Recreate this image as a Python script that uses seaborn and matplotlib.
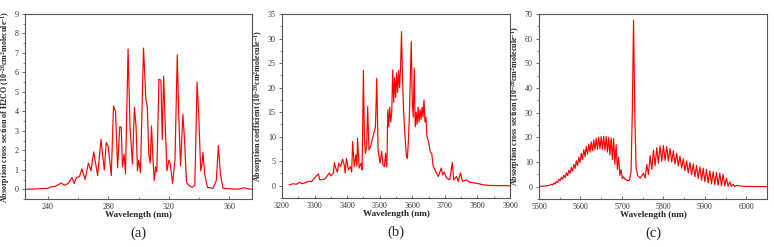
import pandas as pd
import matplotlib
matplotlib.use("Agg")
import matplotlib.pyplot as plt
import seaborn as sns
from matplotlib.ticker import MultipleLocator

# ── (a) H2CO UV absorption cross section ─────────────────────
wl_a = [225, 232, 240, 242, 245, 249, 251, 253.5, 256, 257.5, 258.9, 261, 262.6, 264.7,
        266.9, 268.6, 270.4, 273, 275.2, 277.4, 278.7, 280, 282, 283.5, 284.8, 286.2,
        287.6, 288.6, 289.4, 290.5, 291.4, 293.1, 294.4, 296, 297.3, 298.4, 299.3, 300.2,
        301.3, 303.3, 304.9, 305.8, 306.8, 307.7, 308.6, 309.5, 310.4, 311.3, 312.1,
        313.5, 314.8, 315.7, 316.6, 317.7, 318.8, 320.1, 321, 322.5, 324.1, 325.6, 326.7,
        327.8, 329.3, 330.4, 331.7, 333.3, 335.4, 337.2, 338.7, 339.8, 341.1, 342, 342.6,
        343.7, 345.5, 349.2, 351.4, 352.8, 354.1, 355.8, 365.7, 370, 372, 375]
xs_a = [0.0, 0.02, 0.05, 0.12, 0.15, 0.32, 0.2, 0.3, 0.6, 0.3, 0.6, 0.65, 1.05, 0.5,
        1.35, 0.95, 1.92, 0.7, 2.56, 1.0, 2.4, 2.2, 0.7, 4.28, 4.0, 1.1,
        3.2, 3.2, 1.15, 1.8, 0.8, 7.2, 3.2, 1.3, 4.2, 3.2, 0.95, 1.5,
        0.85, 7.25, 4.6, 4.25, 1.8, 1.35, 3.25, 1.6, 0.45, 1.15, 0.9,
        5.65, 5.6, 2.55, 5.8, 3.2, 0.95, 1.5, 1.3, 0.3, 1.5, 6.9, 3.55,
        1.2, 3.85, 2.55, 0.35, 0.2, 0.1, 0.2, 5.5, 3.8, 0.95, 1.3, 1.9,
        0.8, 0.1, 0.05, 0.45, 2.25, 0.8, 0.05, 0.0, 0.08, 0.03, 0.0]

# ── (b) absorption coefficient, 3.2-3.9 um ───────────────────
wl_b = [3222, 3235, 3245, 3253, 3262, 3283, 3290, 3304, 3312, 3316, 3330, 3335, 3345,
        3350, 3358, 3361, 3365, 3370, 3374, 3380, 3386, 3391, 3394, 3398, 3404, 3410,
        3414, 3417, 3422, 3427, 3430, 3432, 3437, 3443, 3446, 3450, 3453, 3456, 3460,
        3463, 3467, 3472, 3477, 3482, 3487, 3491, 3495, 3501, 3506, 3510, 3515, 3518,
        3522, 3525, 3528, 3531, 3534, 3537, 3540, 3543, 3546, 3549, 3552, 3555, 3558,
        3561, 3564, 3567, 3570, 3573, 3576, 3579, 3582, 3585, 3588, 3591, 3594, 3597,
        3600, 3603, 3606, 3609, 3612, 3615, 3618, 3621, 3624, 3627, 3630, 3633, 3636,
        3639, 3642, 3645, 3650, 3655, 3660, 3664, 3669, 3675, 3680, 3689, 3693, 3698,
        3705, 3715, 3723, 3727, 3736, 3741, 3748, 3754, 3767, 3777, 3797, 3818, 3838, 3900]
ac_b = [0.2, 0.4, 0.3, 0.7, 0.4, 0.9, 0.8, 1.9, 2.4, 1.2, 1.3, 1.6, 2.6,
        2.0, 2.6, 4.75, 3.6, 2.8, 4.6, 3.9, 5.4, 4.3, 2.6, 5.6, 3.2, 3.9,
        2.8, 9.0, 3.9, 6.3, 4.0, 9.7, 3.6, 4.6, 3.2, 23.5, 10, 6.6, 8,
        16.1, 7.3, 8, 9.4, 10.7, 12, 21.9, 7.3, 4.6, 7.0, 4.2, 3.9, 6.6,
        3.8, 15.5, 12, 16, 13, 15, 23.6, 17, 22, 18, 23, 19, 23.5,
        20, 24, 31.4, 22, 16, 12, 9, 6, 5.6, 9, 14, 22, 29.4,
        17, 14, 24, 12, 15, 12.5, 16, 13, 15.5, 13.5, 16, 14, 17.5,
        13, 14, 10, 9, 7, 6.5, 4, 3.3, 2.5, 1.9, 3.6, 2.2, 2.8,
        1.6, 1.2, 4.75, 1.2, 1.9, 0.9, 2.6, 0.9, 1.2, 0.7, 0.5, 0.2, 0.05, 0.0]

# ── (c) absorption cross section, 5.5-6.05 um ────────────────
# band wings + central Q branch
wl_c_edge = [5500, 5510, 5520, 5526, 5708, 5714, 5718, 5722, 5725, 5728, 5731, 5734,
             5738, 5744, 5985, 6000, 6050]
xs_c_edge = [0.1, 0.2, 0.4, 0.6, 3.0, 2.5, 2.6, 6, 30, 67.5, 30, 8,
             4.5, 3.5, 0.3, 0.1, 0.0]
# left hump: line maxima / minima
wl_c_left_max = [5530, 5536, 5542, 5548, 5554, 5560, 5566, 5572, 5578, 5584, 5590, 5596,
                 5602, 5608, 5614, 5620, 5626, 5632, 5638, 5644, 5650, 5656, 5662, 5668,
                 5674, 5680, 5686, 5692, 5698, 5704]
xs_c_left_max = [1.0, 1.5, 2.2, 3.0, 3.8, 4.6, 5.6, 6.6, 7.8, 9.0, 10.5, 12.0,
                 13.5, 15.0, 16.3, 17.3, 18.2, 19.0, 19.6, 20.0, 20.3, 20.4, 20.3, 20.0,
                 19.8, 19.5, 17.0, 12.0, 7.0, 4.0]
wl_c_left_min = [5533, 5539, 5545, 5551, 5557, 5563, 5569, 5575, 5581, 5587, 5593, 5599,
                 5605, 5611, 5617, 5623, 5629, 5635, 5641, 5647, 5653, 5659, 5665, 5671,
                 5677, 5683, 5689, 5695, 5701]
xs_c_left_min = [0.7, 1.1, 1.7, 2.4, 3.0, 3.7, 4.5, 5.4, 6.4, 7.4, 8.6, 9.8,
                 11.0, 12.2, 13.2, 14.0, 14.6, 15.0, 15.2, 15.3, 15.2, 14.8, 14.0, 12.8,
                 11.0, 9.0, 7.0, 4.5, 3.2]
# right hump: line maxima / minima
wl_c_right_max = [5752, 5760, 5768, 5776, 5784, 5792, 5800, 5808, 5816, 5824, 5832, 5840,
                  5848, 5856, 5864, 5872, 5880, 5888, 5896, 5904, 5912, 5920, 5928, 5936,
                  5944, 5952, 5960, 5968, 5976]
xs_c_right_max = [5.5, 9.0, 12.5, 14.8, 15.8, 16.5, 16.7, 16.3, 15.5, 14.5, 13.5, 12.3,
                  11.3, 10.5, 9.8, 9.2, 8.6, 8.0, 7.5, 7.0, 6.5, 6.0, 5.8, 5.5,
                  5.0, 3.5, 2.0, 1.0, 0.5]
wl_c_right_min = [5756, 5764, 5772, 5780, 5788, 5796, 5804, 5812, 5820, 5828, 5836, 5844,
                  5852, 5860, 5868, 5876, 5884, 5892, 5900, 5908, 5916, 5924, 5932, 5940,
                  5948, 5956, 5964, 5972]
xs_c_right_min = [3.5, 5.0, 7.0, 8.5, 9.5, 10.3, 10.6, 10.4, 10.0, 9.2, 8.4, 7.5,
                  6.5, 5.6, 4.8, 4.0, 3.3, 2.6, 2.0, 1.5, 1.1, 0.8, 0.6, 0.4,
                  0.3, 0.2, 0.1, 0.1]

sns.set_style("ticks")
plt.rcParams["font.family"] = ["Liberation Serif", "DejaVu Serif"]
plt.rcParams["mathtext.fontset"] = "custom"
plt.rcParams["mathtext.rm"] = "Liberation Serif:bold"
plt.rcParams["mathtext.bf"] = "Liberation Serif:bold"
plt.rcParams["mathtext.default"] = "bf"

RED = "#ff0000"
SPINE = "#555555"

df_a = pd.DataFrame({"wl": wl_a, "val": xs_a})
df_b = pd.DataFrame({"wl": wl_b, "val": ac_b})
df_c = pd.concat([
    pd.DataFrame({"wl": wl_c_edge, "val": xs_c_edge}),
    pd.DataFrame({"wl": wl_c_left_max, "val": xs_c_left_max}),
    pd.DataFrame({"wl": wl_c_left_min, "val": xs_c_left_min}),
    pd.DataFrame({"wl": wl_c_right_max, "val": xs_c_right_max}),
    pd.DataFrame({"wl": wl_c_right_min, "val": xs_c_right_min}),
]).sort_values("wl").reset_index(drop=True)

fig = plt.figure(figsize=(7.74, 2.47), dpi=100)
ax_a = fig.add_axes([0.0323, 0.1943, 0.2933, 0.749])
ax_b = fig.add_axes([0.3643, 0.1984, 0.2946, 0.745])
ax_c = fig.add_axes([0.6964, 0.1943, 0.2946, 0.749])

panels = [
    (ax_a, df_a, (225, 375), (-0.5, 9), 40, 20, 1, 0.5,
     "Absorption cross section of H2CO (10$^{-20}$cm$^{2}$molecule$^{-1}$)", "(a)"),
    (ax_b, df_b, (3200, 3900), (-2.5, 35), 100, 50, 5, 2.5,
     "Absorption coefficient (10$^{-20}$cm$^{2}$molecule$^{-1}$)", "(b)"),
    (ax_c, df_c, (5500, 6050), (-5, 70), 100, 50, 10, 5,
     "Absorption cross section (10$^{-20}$cm$^{2}$molecule$^{-1}$)", "(c)"),
]

for ax, df, xlim, ylim, xmaj, xmin, ymaj, ymin, ylabel, tag in panels:
    sns.lineplot(data=df, x="wl", y="val", ax=ax, color=RED, linewidth=0.85,
                 sort=False, estimator=None)
    ax.set_xlim(*xlim)
    ax.set_ylim(*ylim)
    ax.xaxis.set_major_locator(MultipleLocator(xmaj))
    ax.xaxis.set_minor_locator(MultipleLocator(xmin))
    ax.yaxis.set_major_locator(MultipleLocator(ymaj))
    ax.yaxis.set_minor_locator(MultipleLocator(ymin))
    ax.tick_params(axis="x", which="both", direction="in", colors=SPINE,
                   labelcolor="#333333", labelsize=5.8, pad=3)
    ax.tick_params(axis="y", which="both", direction="out", colors=SPINE,
                   labelcolor="#333333", labelsize=5.8, pad=2)
    ax.tick_params(which="major", length=2.5, width=0.6)
    ax.tick_params(which="minor", length=1.5, width=0.5)
    for s in ax.spines.values():
        s.set_color(SPINE)
        s.set_linewidth(0.8)
        s.set_visible(True)
    ax.set_xlabel("Wavelength (nm)", fontsize=6.6, fontweight="bold", labelpad=0)
    ax.set_ylabel(ylabel, fontsize=5.8, fontweight="bold", labelpad=2)
    ax.text(0.5, -0.185, tag, transform=ax.transAxes, ha="center", va="center",
            fontsize=10.5)

fig.savefig("out.png", dpi=100)
plt.close()
